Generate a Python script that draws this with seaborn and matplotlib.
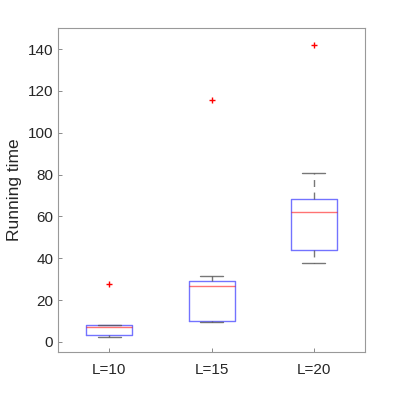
import matplotlib
matplotlib.use("Agg")
import matplotlib.pyplot as plt
import seaborn as sns
import pandas as pd

categories = ["L=10", "L=15", "L=20"]
times_L10 = [2.2, 2.8, 3.2, 5.0, 7.0, 7.5, 8.0, 8.1, 27.6]
times_L15 = [9.6, 9.9, 10.2, 18.0, 26.6, 28.0, 29.1, 31.5, 115.6]
times_L20 = [37.7, 40.0, 44.1, 55.0, 62.0, 65.0, 68.2, 80.6, 141.9]
yticks = [0, 20, 40, 60, 80, 100, 120, 140]

rows = []
for cat, vals in zip(categories, [times_L10, times_L15, times_L20]):
    for v in vals:
        rows.append({"L": cat, "time": v})
df = pd.DataFrame(rows)

sns.set_style("white")
plt.rcParams["font.family"] = ["Liberation Sans", "DejaVu Sans"]

fig = plt.figure(figsize=(4.03, 3.96), dpi=100)
ax = fig.add_axes([0.144, 0.111, 0.762, 0.818])

sns.boxplot(data=df, x="L", y="time", order=categories, ax=ax,
            fill=False, width=0.45, whis=1.5, linewidth=1.0,
            boxprops=dict(color="#0000ff", alpha=0.55),
            medianprops=dict(color="#ff0000", alpha=0.55),
            whiskerprops=dict(color="#555555", linestyle=(0, (5, 4)), alpha=0.8),
            capprops=dict(color="#555555", alpha=0.8),
            flierprops=dict(marker="+", markeredgecolor="#ff0000",
                            markersize=5, markeredgewidth=1.0))

ax.set_xlim(-0.5, 2.5)
ax.set_ylim(-4.8, 150)
ax.set_yticks(yticks)
ax.set_xlabel("")
ax.set_ylabel("Running time", fontsize=12.5, color="#262626")
for s in ax.spines.values():
    s.set_visible(True)
    s.set_color("#999999")
    s.set_linewidth(0.8)
ax.tick_params(direction="in", length=3, width=0.6, color="#777777",
               labelsize=11, labelcolor="#262626",
               top=False, right=False, bottom=True, left=True)
ax.tick_params(axis="x", pad=8)
ax.grid(False)

fig.savefig("out.png", dpi=100)
